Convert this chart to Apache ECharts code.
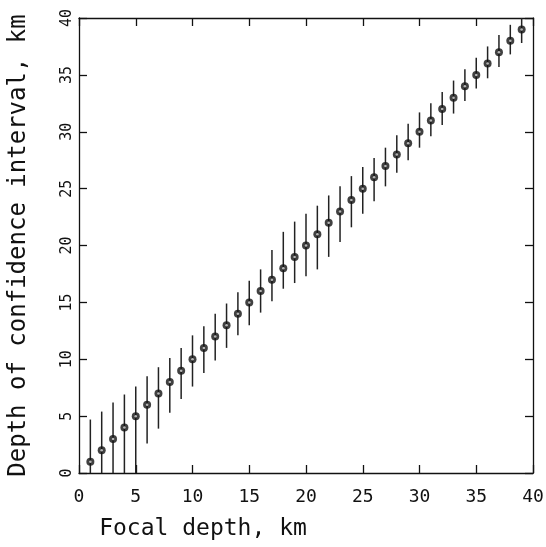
<!DOCTYPE html>
<html>
<head>
<meta charset="utf-8">
<script src="https://cdn.jsdelivr.net/npm/echarts@6/dist/echarts.min.js"></script>
<style>
  html, body { margin: 0; padding: 0; background: #fff; }
  #chart { width: 546px; height: 547px; }
</style>
</head>
<body>
<div id="chart"></div>
<script>
// Focal depth (km) of each test event
const focalDepth = [1, 2, 3, 4, 5, 6, 7, 8, 9, 10, 11, 12, 13, 14, 15, 16, 17, 18, 19, 20,
  21, 22, 23, 24, 25, 26, 27, 28, 29, 30, 31, 32, 33, 34, 35, 36, 37, 38, 39];
// Estimated depth (km)
const estDepth = [1, 2, 3, 4, 5, 6, 7, 8, 9, 10, 11, 12, 13, 14, 15, 16, 17, 18, 19, 20,
  21, 22, 23, 24, 25, 26, 27, 28, 29, 30, 31, 32, 33, 34, 35, 36, 37, 38, 39];
// Confidence interval bounds (km)
const lowerBound = [0, 0, 0, 0, 0, 2.6, 3.9, 5.3, 6.5, 7.6, 8.8, 9.9, 11.0, 12.1, 13.0, 14.1, 15.1, 16.2, 16.7, 17.3,
  17.9, 19.0, 20.3, 21.6, 22.8, 23.9, 25.2, 26.4, 27.5, 28.6, 29.6, 30.6, 31.6, 32.7, 33.8, 34.7, 35.7, 36.8, 37.8];
const upperBound = [4.7, 5.4, 6.2, 6.9, 7.6, 8.5, 9.3, 10.1, 11.0, 12.1, 12.9, 14.0, 14.9, 15.9, 16.9, 17.9, 19.6, 21.2, 22.1, 22.8,
  23.5, 24.4, 25.2, 26.1, 26.9, 27.7, 28.6, 29.7, 30.7, 31.7, 32.5, 33.5, 34.5, 35.5, 36.5, 37.5, 38.5, 39.4, 40.0];
const tickValues = [0, 5, 10, 15, 20, 25, 30, 35, 40];

const FONT = '"DejaVu Sans Mono", "Liberation Mono", monospace';
const INK = '#111';

const pointData = focalDepth.map((x, i) => [x, estDepth[i]]);
const barData = focalDepth.map((x, i) => [x, lowerBound[i], upperBound[i]]);

function baseAxis(extra) {
  return Object.assign({
    type: 'value',
    min: tickValues[0],
    max: tickValues[tickValues.length - 1],
    interval: 5,
    splitLine: { show: false },
    axisLine: { show: true, onZero: false, lineStyle: { color: INK, width: 1.3 } },
    axisTick: { show: true, inside: true, length: 8, lineStyle: { color: INK, width: 1.3 } },
    axisLabel: { show: false }
  }, extra);
}

const chart = echarts.init(document.getElementById('chart'), null, { renderer: 'canvas' });
chart.setOption({
  animation: false,
  backgroundColor: '#fff',
  grid: { left: 79, right: 13, top: 18, bottom: 74, containLabel: false, outerBoundsMode: 'none' },
  xAxis: [
    baseAxis({
      position: 'bottom',
      name: 'Focal depth, km',
      nameLocation: 'middle',
      nameGap: 45,
      nameTextStyle: { fontFamily: FONT, fontSize: 23, color: INK, padding: [0, 206, 0, 0] },
      axisLabel: { show: true, margin: 15, fontFamily: FONT, fontSize: 18, color: INK }
    }),
    baseAxis({ position: 'top' })
  ],
  yAxis: [
    baseAxis({
      position: 'left',
      name: 'Depth of confidence interval, km',
      nameLocation: 'middle',
      nameGap: 48,
      nameTextStyle: { fontFamily: FONT, fontSize: 24, color: INK },
      axisLabel: { show: true, rotate: 90, margin: 4, fontFamily: FONT, fontSize: 15, color: INK }
    }),
    baseAxis({ position: 'right' })
  ],
  series: [
    {
      name: 'interval',
      type: 'custom',
      xAxisIndex: 0,
      yAxisIndex: 0,
      data: barData,
      clip: true,
      renderItem: function (params, api) {
        const x = api.value(0);
        const p1 = api.coord([x, api.value(1)]);
        const p2 = api.coord([x, api.value(2)]);
        return {
          type: 'line',
          shape: { x1: p1[0], y1: p1[1], x2: p2[0], y2: p2[1] },
          style: { stroke: '#222', lineWidth: 1.5 }
        };
      },
      z: 2
    },
    {
      name: 'estimate',
      type: 'scatter',
      xAxisIndex: 0,
      yAxisIndex: 0,
      data: pointData,
      symbol: 'circle',
      symbolSize: 8,
      itemStyle: { color: INK },
      z: 3
    },
    {
      // small light centre of each plotted marker
      name: 'estimate-centre',
      type: 'scatter',
      xAxisIndex: 0,
      yAxisIndex: 0,
      data: pointData,
      symbol: 'circle',
      symbolSize: 2.5,
      itemStyle: { color: '#ddd' },
      silent: true,
      z: 4
    }
  ]
});
</script>
</body>
</html>
